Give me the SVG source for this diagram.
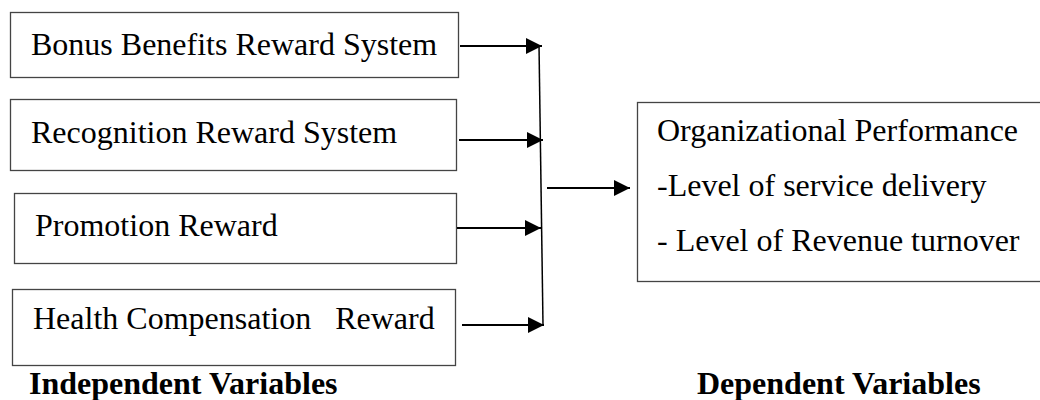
<svg xmlns="http://www.w3.org/2000/svg" width="1040" height="400" viewBox="0 0 1040 400">
<defs>
<style>
.box{fill:#fff;stroke:#444;stroke-width:1.3}
.t{font-family:"Liberation Serif","Times New Roman",serif;font-size:32px;fill:#000}
.b{font-weight:bold}
.arr{stroke:#000;stroke-width:2.2;fill:none;marker-end:url(#ah)}
</style>
<marker id="ah" markerUnits="userSpaceOnUse" markerWidth="16" markerHeight="16" viewBox="0 0 16 16" refX="16" refY="8" orient="auto">
<path d="M0,0 L16,8 L0,16 Z" fill="#000"/>
</marker>
</defs>
<rect width="1040" height="400" fill="#fff"/>
<g id="n1"><rect class="box" x="10.5" y="12.5" width="448" height="65"/><text class="t" x="31" y="55">Bonus Benefits Reward System</text></g>
<g id="n2"><rect class="box" x="10.5" y="99.5" width="446" height="71"/><text class="t" x="31" y="143">Recognition Reward System</text></g>
<g id="n3"><rect class="box" x="14.5" y="193.5" width="442" height="70"/><text class="t" x="35" y="236">Promotion Reward</text></g>
<g id="n4"><rect class="box" x="12.5" y="289.5" width="443" height="76"/><text class="t" x="33" y="329" xml:space="preserve">Health Compensation   Reward</text></g>
<g id="n5"><rect class="box" x="637.5" y="102.5" width="410" height="179"/><text class="t" x="657" y="141">Organizational Performance</text><text class="t" x="657" y="196">-Level of service delivery</text><text class="t" x="657" y="251">- Level of Revenue turnover</text></g>
<g id="labels"><text class="t b" x="29" y="394">Independent Variables</text><text class="t b" x="697" y="394">Dependent Variables</text></g>
<g id="connectors">
<line x1="539" y1="45" x2="543" y2="325" stroke="#000" stroke-width="1.5"/>
<line class="arr" x1="460" y1="46" x2="542" y2="46"/>
<line class="arr" x1="459" y1="140" x2="543" y2="140"/>
<line class="arr" x1="457" y1="228" x2="541" y2="228"/>
<line class="arr" x1="462" y1="325" x2="544" y2="325"/>
<line class="arr" x1="547" y1="188" x2="630" y2="188"/>
</g>
</svg>
